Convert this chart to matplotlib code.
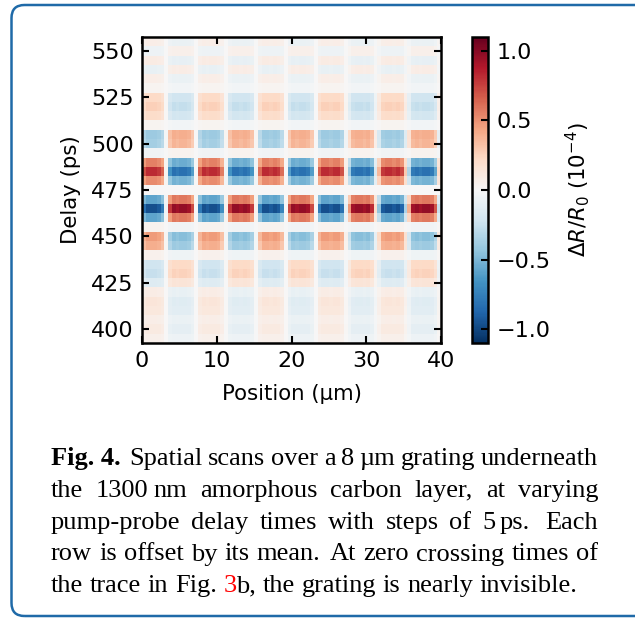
import numpy as np
import matplotlib
matplotlib.use("Agg")
import matplotlib.pyplot as plt
from matplotlib.patches import FancyBboxPatch

# ---------------- data ----------------
delays = [395, 400, 405, 410, 415, 420, 425, 430, 435, 440, 445, 450, 455,
          460, 465, 470, 475, 480, 485, 490, 495, 500, 505, 510, 515, 520,
          525, 530, 535, 540, 545, 550, 555]
# signed amplitude of each row (units 1e-4), + means red at x = 0
row_amplitude = [0.06, 0.10, 0.07, 0.12, 0.13, 0.08, -0.14, -0.25, -0.22, 0.05,
                 0.40, 0.47, 0.04, -0.58, -0.97, -0.58, 0.00, 0.52, 0.82, 0.55,
                 -0.04, -0.37, -0.40, 0.03, 0.20, 0.26, 0.22, 0.03, 0.07, -0.08,
                 0.09, -0.06, 0.07]
# normalised grating profile along position (0.5 um columns, 0 .. 40 um)
grating_profile = [0.85, 1.00, 1.00, 1.00, 0.95, 0.80, 0.05,
                   -0.80, -1.00, -0.95, -1.00, -1.00, -0.95, -0.75, 0.00,
                   0.80, 1.00, 0.95, 1.00, 1.00, 0.95, 0.70, -0.05,
                   -0.80, -1.00, -1.00, -0.95, -1.00, -0.95, -0.80, -0.05,
                   0.75, 1.00, 1.00, 0.95, 1.00, 0.95, 0.75, 0.00,
                   -0.75, -1.00, -0.95, -1.00, -1.00, -0.95, -0.75, 0.00,
                   0.80, 1.00, 1.00, 0.95, 1.00, 1.00, 0.85, 0.10,
                   -0.50, -0.95, -1.00, -1.00, -0.95, -1.00, -0.85, -0.20,
                   0.45, 0.95, 1.00, 1.00, 0.95, 1.00, 0.90, 0.35,
                   -0.40, -0.95, -1.00, -0.95, -1.00, -1.00, -0.95, -0.70,
                   0.25]
position_range = [0, 40]
delay_step = 5
x_ticks = [0, 10, 20, 30, 40]
y_ticks = [400, 425, 450, 475, 500, 525, 550]
cbar_ticks = [-1.0, -0.5, 0.0, 0.5, 1.0]
color_limit = 1.1

# caption words: (text, gap before, style)
caption_lines = [
    [("Fig. 4.", None, "b"), ("Spatial", "q", ""), ("scans", "s", ""), ("over", "s", ""),
     ("a", "s", ""), ("8", "s", ""), ("\u00b5m", "t", ""), ("grating", "s", ""),
     ("underneath", "s", "")],
    [("the", None, ""), ("1300", "s", ""), ("nm", "t", ""), ("amorphous", "s", ""),
     ("carbon", "s", ""), ("layer,", "s", ""), ("at", "s", ""), ("varying", "s", "")],
    [("pump-probe", None, ""), ("delay", "s", ""), ("times", "s", ""), ("with", "s", ""),
     ("steps", "s", ""), ("of", "s", ""), ("5", "s", ""), ("ps.", "t", ""), ("Each", "e", "")],
    [("row", None, ""), ("is", "s", ""), ("offset", "s", ""), ("by", "s", ""), ("its", "s", ""),
     ("mean.", "s", ""), ("At", "e", ""), ("zero", "s", ""), ("crossing", "s", ""),
     ("times", "s", ""), ("of", "s", "")],
    [("the", None, ""), ("trace", "s", ""), ("in", "s", ""), ("Fig.", "s", ""), ("3", "s", "r"),
     ("b,", "n", ""), ("the", "s", ""), ("grating", "s", ""), ("is", "s", ""),
     ("nearly", "s", ""), ("invisible.", "s", "")],
]

# ---------------- figure ----------------
W, H = 635, 619
plt.rcParams['font.family'] = ['DejaVu Sans']
plt.rcParams['mathtext.fontset'] = 'dejavusans'
fig = plt.figure(figsize=(W / 100, H / 100), dpi=100)

def fx(px):
    return px / W

def fy(py):
    return 1 - py / H

ax_l, ax_r, ax_t, ax_b = 142, 441, 37, 343
ax = fig.add_axes([fx(ax_l), fy(ax_b), fx(ax_r - ax_l), (ax_b - ax_t) / H])
cax = fig.add_axes([fx(472), fy(ax_b), fx(16), (ax_b - ax_t) / H])

data = np.outer(np.array(row_amplitude), np.array(grating_profile))
extent = [position_range[0], position_range[1],
          delays[0] - delay_step / 2, delays[-1] + delay_step / 2]
im = ax.imshow(data, origin='lower', extent=extent, aspect='auto', cmap='RdBu_r',
               vmin=-color_limit, vmax=color_limit, interpolation='nearest')

FS = 16
LFS = 15.3
ax.set_xticks(x_ticks)
ax.set_yticks(y_ticks)
ax.set_xlim(extent[0], extent[1])
ax.set_ylim(extent[2], extent[3])
ax.tick_params(direction='in', top=True, right=True, length=5, width=1.5,
               labelsize=FS, pad=6)
for s in ax.spines.values():
    s.set_linewidth(1.8)
ax.set_xlabel("Position (\u00b5m)", fontsize=LFS, labelpad=9)
ax.set_ylabel("Delay (ps)", fontsize=LFS, labelpad=7)

cb = fig.colorbar(im, cax=cax, ticks=cbar_ticks)
cb.ax.tick_params(direction='in', length=5, width=1.5, labelsize=FS, pad=6)
cb.outline.set_linewidth(1.8)
cb.set_label(r"$\Delta R/R_0$ $(10^{-4})$", fontsize=LFS, labelpad=9)
cb.ax.yaxis.set_major_formatter(matplotlib.ticker.FuncFormatter(
    lambda v, p: ("%.1f" % v).replace("-", "\u2212")))

# ---------------- border ----------------
border = FancyBboxPatch((11.5 / 100, (H - 616) / 100), (W + 40 - 11.5) / 100, (616 - 5) / 100,
                        boxstyle="round,pad=0,rounding_size=0.13",
                        transform=fig.dpi_scale_trans, fill=False,
                        edgecolor="#1f6aa8", linewidth=1.8, clip_on=False)
fig.add_artist(border)

# ---------------- caption ----------------
CFS = 19
renderer = fig.canvas.get_renderer()
left_px, right_px = 51, 598
baselines = [465, 497, 528.8, 560.5, 592.2]
em = CFS * 100 / 72
weights = {'s': 1.0, 'e': 1.4, 'q': 1.5}

for li, (items, yb) in enumerate(zip(caption_lines, baselines)):
    texts, widths = [], []
    for word, g, st in items:
        kw = dict(fontsize=CFS, family=['Liberation Serif', 'DejaVu Serif'],
                  va='baseline', ha='left', color='black')
        if st == 'b':
            kw['weight'] = 'bold'
        if st == 'r':
            kw['color'] = '#ff0000'
        t = fig.text(0, fy(yb), word, **kw)
        bb = t.get_window_extent(renderer)
        texts.append(t)
        widths.append(bb.width)
    fixed = sum(0.17 * em for _, g, _ in items if g == 't')
    stretch = sum(weights.get(g, 0.0) for _, g, _ in items)
    total_w = sum(widths) + fixed
    justify = li < len(caption_lines) - 1
    if justify:
        unit = (right_px - left_px - total_w) / stretch
    else:
        unit = 0.25 * em
    x = left_px
    for (word, g, st), t, w in zip(items, texts, widths):
        if g == 't':
            x += 0.17 * em
        elif g in weights:
            x += weights[g] * unit
        t.set_x(fx(x))
        x += w

fig.savefig("out.png", dpi=100)
